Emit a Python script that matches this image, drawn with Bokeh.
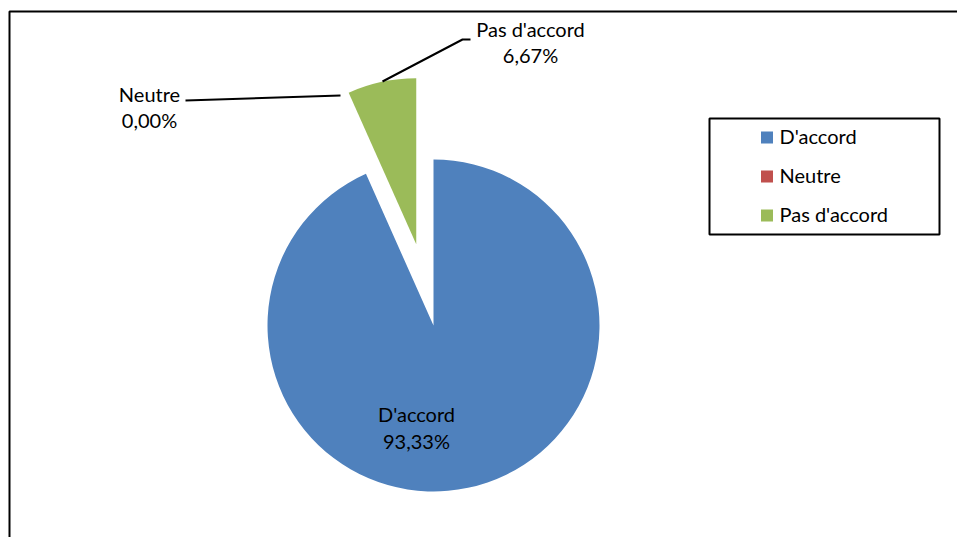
import math
from bokeh.plotting import figure
from bokeh.models import Range1d, ColumnDataSource
from bokeh.core.properties import value
from bokeh.embed import file_html
from bokeh.resources import INLINE

# ---- data ----
categories = ["D'accord", "Neutre", "Pas d'accord"]
percents = [93.33, 0.00, 6.67]
pct_labels = ["93,33%", "0,00%", "6,67%"]
colors = ["#4F81BD", "#C0504D", "#9BBB59"]

# ---- layout (pixel-like data units) ----
W, H = 957, 537
CX, CY, R = 433, 212, 166
explode = [0, 0, 83]
FONT = "Lato"
FS = "20px"

p = figure(width=W, height=H, output_backend="svg", toolbar_location=None,
           x_range=Range1d(0, W), y_range=Range1d(0, H), min_border=0)
p.axis.visible = False
p.grid.visible = False
p.outline_line_color = None
p.background_fill_color = "white"

# frame (cut-off chart area border)
p.line([9, 9, W + 5], [-5, 526, 526], line_color="black", line_width=2)

# pie wedges
total = sum(percents)
cum = 0.0
xs, ys, starts, ends, cols = [], [], [], [], []
for pct, col, ex in zip(percents, colors, explode):
    frac = pct / total
    a0 = math.pi / 2 - cum * 2 * math.pi
    a1 = a0 - frac * 2 * math.pi
    mid = (a0 + a1) / 2
    cum += frac
    if frac <= 0:
        continue
    xs.append(CX + ex * math.cos(mid))
    ys.append(CY + ex * math.sin(mid))
    starts.append(a0)
    ends.append(a1)
    cols.append(col)
src = ColumnDataSource(dict(x=xs, y=ys, start=starts, end=ends, color=cols))
p.wedge(x="x", y="y", radius=R, start_angle="start", end_angle="end",
        direction="clock", fill_color="color", line_color=None, source=src)

# leader lines
p.line([185, 340], [437, 442], line_color="black", line_width=2)
p.line([382, 462, 470], [456, 498, 498], line_color="black", line_width=2)

# data labels: (x center, name baseline, pct baseline)
label_pos = {"D'accord": (416, 124, 97), "Neutre": (149, 444, 418), "Pas d'accord": (530, 509, 483)}
lx, ly1, ly2, names, pcts = [], [], [], [], []
for c, pl in zip(categories, pct_labels):
    x0, y1, y2 = label_pos[c]
    lx.append(x0); ly1.append(y1); ly2.append(y2); names.append(c); pcts.append(pl)
p.text(x=lx, y=ly1, text=names, text_align="center", text_baseline="alphabetic",
       text_font=value(FONT), text_font_size=FS, text_color="black")
p.text(x=lx, y=ly2, text=pcts, text_align="center", text_baseline="alphabetic",
       text_font=value(FONT), text_font_size=FS, text_color="black")

# legend (manual)
LX0, LX1, LY0, LY1 = 709, 939, 303, 419
p.quad(left=[LX0], right=[LX1], bottom=[LY0], top=[LY1], fill_color="white",
       line_color="black", line_width=2)
row_y = [400 - 39 * i for i in range(len(categories))]
p.rect(x=[766.5] * len(categories), y=row_y, width=12, height=12,
       fill_color=colors, line_color=None)
p.text(x=[779] * len(categories), y=[v + 2 for v in row_y], text=categories, text_align="left",
       text_baseline="middle", text_font=value(FONT), text_font_size=FS, text_color="black")

open("out.html", "w").write(file_html(p, INLINE))
